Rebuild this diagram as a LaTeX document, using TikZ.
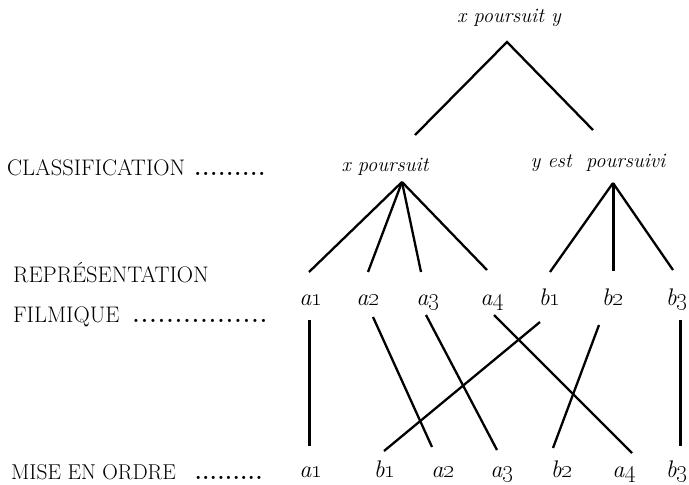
\documentclass[tikz,border=0pt]{standalone}
\newcommand\dotrow[2]{\foreach\i in {1,...,#1}{\makebox[#2]{\textbf{.}}}}
\newcommand\nm[2]{#1\oldstylenums{#2}}
\tikzset{
  lab/.style={font=\fontsize{20.5}{24}\selectfont\itshape, inner sep=0pt, anchor=base},
  rlab/.style={font=\fontsize{24}{28}\selectfont\itshape, inner sep=0pt, anchor=base},
  capt/.style={font=\fontsize{22.5}{26}\selectfont, inner sep=0pt, anchor=base west},
  dotsn/.style={font=\fontsize{22}{26}\selectfont, inner sep=0pt, anchor=base east},
  ln/.style={line width=2.3pt},
  vln/.style={line width=3pt}
}
\begin{document}
\begin{tikzpicture}[x=1pt,y=-1pt]
\useasboundingbox (0,0) rectangle (689,485);
% left captions
\node[capt] (cl) at (7,175) {CLASSIFICATION};
\node[dotsn] (cld) at (266,175) {\dotrow{9}{8pt}};
\node[capt] (rep) at (13,282) {REPRÉSENTATION};
\node[capt] (fil) at (13,322) {FILMIQUE};
\node[dotsn] (fild) at (268,322) {\dotrow{16}{8.5pt}};
\node[capt] (mis) at (11,479) {\fontsize{21.5}{26}\selectfont MISE EN ORDRE};
\node[dotsn] (misd) at (263,479) {\dotrow{9}{7.6pt}};
% tree labels
\node[lab] (top) at (509,22) {x poursuit y};
\node[lab] (xp) at (385,171) {x poursuit};
\node[lab] (yp) at (598,167) {y est\ \ poursuivi};
% row 1
\node[rlab] (ua1) at (311,305) {\nm{a}{1}};
\node[rlab] (ua2) at (368,305) {\nm{a}{2}};
\node[rlab] (ua3) at (428,305) {\nm{a}{3}};
\node[rlab] (ua4) at (492,305) {\nm{a}{4}};
\node[rlab] (ub1) at (550,305) {\nm{b}{1}};
\node[rlab] (ub2) at (613,305) {\nm{b}{2}};
\node[rlab] (ub3) at (677,305) {\nm{b}{3}};
% row 2
\node[rlab] (la1) at (311,477) {\nm{a}{1}};
\node[rlab] (lb1) at (385,477) {\nm{b}{1}};
\node[rlab] (la2) at (443,477) {\nm{a}{2}};
\node[rlab] (la3) at (502,477) {\nm{a}{3}};
\node[rlab] (lb2) at (562,477) {\nm{b}{2}};
\node[rlab] (la4) at (624,477) {\nm{a}{4}};
\node[rlab] (lb3) at (677,477) {\nm{b}{3}};
% coordinates
\coordinate (tA) at (507,42);
\coordinate (tL) at (415,135);
\coordinate (tR) at (593,130);
\coordinate (xA) at (402,182);
\coordinate (x1) at (309,272);
\coordinate (x2) at (368,272);
\coordinate (x3) at (421,272);
\coordinate (x4) at (487,270);
\coordinate (yA) at (613,183);
\coordinate (y1) at (550,272);
\coordinate (y2) at (613,271);
\coordinate (y3) at (673,270);
\coordinate (a1t) at (309,320);
\coordinate (a1b) at (309,446);
\coordinate (a2t) at (373,317);
\coordinate (a2b) at (432,447);
\coordinate (a3t) at (426,315);
\coordinate (a3b) at (497,450);
\coordinate (a4t) at (494,315);
\coordinate (a4b) at (632,453);
\coordinate (b1t) at (540,322);
\coordinate (b1b) at (384,451);
\coordinate (b2t) at (599,325);
\coordinate (b2b) at (553,448);
\coordinate (b3t) at (680,320);
\coordinate (b3b) at (680,446);
% tree
\draw[ln] (tL) -- (tA) -- (tR);
\draw[ln] (xA) -- (x1);
\draw[ln] (xA) -- (x2);
\draw[ln] (xA) -- (x3);
\draw[ln] (xA) -- (x4);
\draw[ln] (yA) -- (y1);
\draw[vln] (yA) -- (y2);
\draw[ln] (yA) -- (y3);
% reordering
\draw[vln] (a1t) -- (a1b);
\draw[ln] (a2t) -- (a2b);
\draw[ln] (a3t) -- (a3b);
\draw[ln] (a4t) -- (a4b);
\draw[ln] (b1t) -- (b1b);
\draw[ln] (b2t) -- (b2b);
\draw[vln] (b3t) -- (b3b);
\end{tikzpicture}
\end{document}
